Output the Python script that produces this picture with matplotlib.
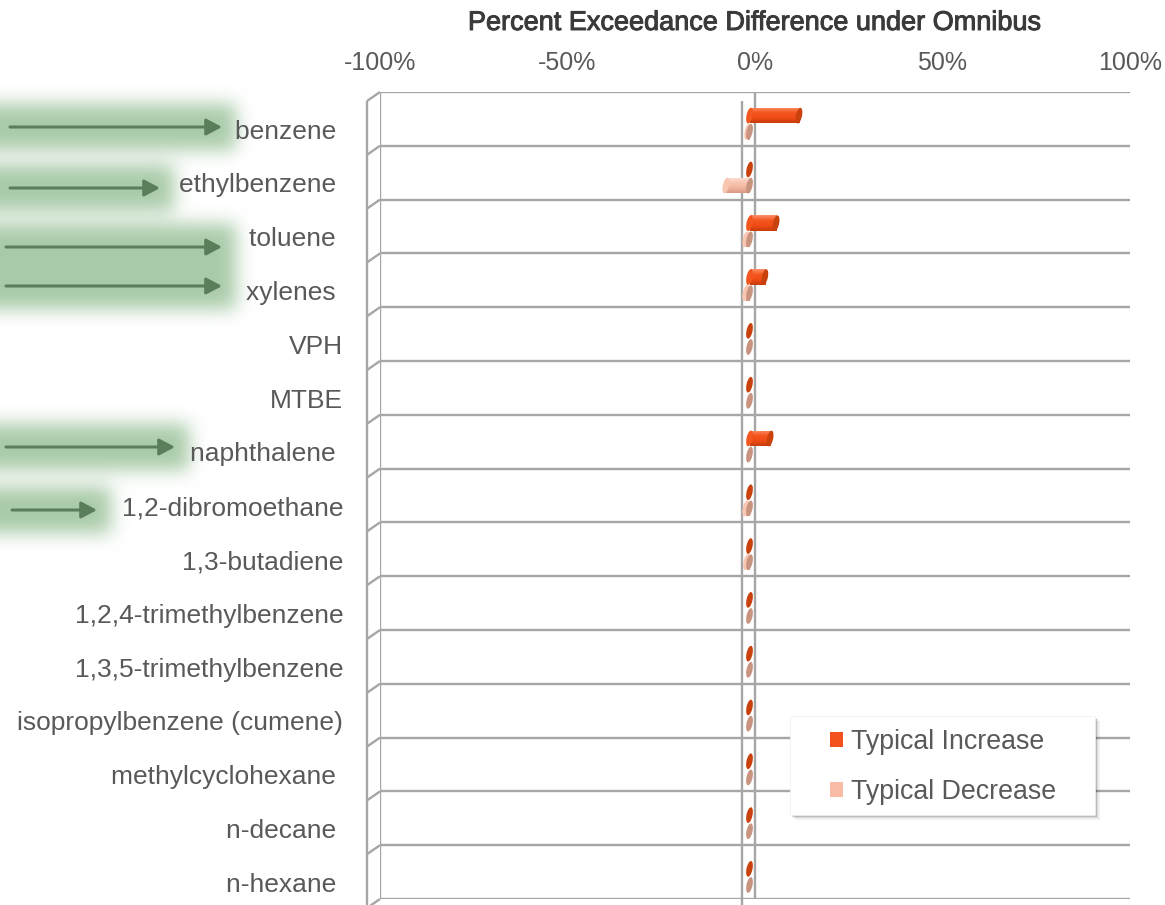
import numpy as np
import matplotlib
matplotlib.use("Agg")
import matplotlib.pyplot as plt
from matplotlib import patches, transforms, patheffects
from matplotlib.colors import LinearSegmentedColormap

categories = ["benzene ", "ethylbenzene ", "toluene ", "xylenes ", "VPH", "MTBE",
              "naphthalene ", "1,2-dibromoethane", "1,3-butadiene",
              "1,2,4-trimethylbenzene", "1,3,5-trimethylbenzene",
              "isopropylbenzene (cumene)", "methylcyclohexane ", "n-decane ",
              "n-hexane "]
typical_increase = [13.2, 0, 7.1, 4.1, 0, 0, 5.5, 0, 0, 0, 0, 0, 0, 0, 0]
typical_decrease = [-0.5, -6.3, -1.0, -1.0, 0, 0, 0, -1.0, -0.8, 0, 0, 0, 0, 0, 0]
x_ticks = [-100, -50, 0, 50, 100]
title = "Percent Exceedance Difference under Omnibus"

# green pointer arrows on the left: (x start, x end, y) in figure pixels from top
pointers = [(10, 222, 127), (10, 160, 188), (6, 222, 247), (6, 222, 286),
            (6, 175, 447), (12, 97, 510)]

plt.rcParams['font.family'] = ['Liberation Sans', 'DejaVu Sans']

W, H = 1165, 905
GRID = '#a6a6a6'
TEXT = '#595959'
INC, DEC = '#f4511e', '#f8bba5'

fig = plt.figure(figsize=(W / 100, H / 100), dpi=100)
ax = fig.add_axes([380 / W, 1 - 899 / H, 750 / W, 807 / H])
ax.set_zorder(1)
ax.patch.set_visible(False)
for s in ax.spines.values():
    s.set_visible(False)

n = len(categories)
rows = np.arange(n)
ax.set_xlim(-100, 100)
ax.set_ylim(n - 0.5, -0.5)
ax.set_autoscale_on(False)

# 3-D frame: back wall grid plus the offset front edges
front = transforms.offset_copy(ax.transData, fig=fig, x=-13, y=-9, units='dots')
dxd = -13 * 200 / 750
dyd = 9 * n / 807
edges = np.arange(n + 1) - 0.5
ax.hlines(edges, -100, 100, color=GRID, lw=1.7, zorder=1)
ax.vlines([-100, 0], -0.5, n - 0.5, color=GRID, lw=1.7, zorder=1)
ax.vlines([-100, 0], -0.5, n + 0.3, color=GRID, lw=1.7, zorder=1,
          transform=front, clip_on=False)
for e in edges:
    ax.plot([-100, -100 + dxd], [e, e + dyd], color=GRID, lw=1.7, zorder=1,
            clip_on=False, solid_capstyle='butt')

# cylinders
bar_t = transforms.offset_copy(ax.transData, fig=fig, x=-5.5, y=0, units='dots')
bar_h = 0.29
grad = np.linspace(0, 1, 64).reshape(-1, 1)
inc_cmap = LinearSegmentedColormap.from_list(
    'inc', ['#fb9068', '#f4561f', '#ef4b16', '#c73c0c'])
dec_cmap = LinearSegmentedColormap.from_list(
    'dec', ['#fde2d6', '#f9c6b2', '#f3b59e', '#d99883'])


def cap(x, y, color, w=6, h=16):
    tr = fig.dpi_scale_trans + transforms.ScaledTranslation(x, y, bar_t)
    el = patches.Ellipse((0, 0), w / 100, h / 100, angle=-12, transform=tr,
                         facecolor=color, edgecolor='none', zorder=4)
    ax.add_patch(el)


def cylinder(v, y, cmap, mid, cap_color):
    x0, x1 = min(v, 0), max(v, 0)
    if x1 > x0:
        cap(x0, y, mid)
        rect = patches.Rectangle((x0, y - bar_h / 2), x1 - x0, bar_h,
                                 transform=bar_t, facecolor='none',
                                 edgecolor='none')
        ax.add_patch(rect)
        im = ax.imshow(grad, extent=(x0, x1, y + bar_h / 2, y - bar_h / 2),
                       aspect='auto', cmap=cmap, origin='upper',
                       transform=bar_t, zorder=3, interpolation='bilinear')
        im.set_clip_path(rect)
    cap(x1, y, cap_color)


for i in rows:
    cylinder(typical_increase[i], i - 0.06, inc_cmap, '#f4561f', '#c9420e')
for i in rows:
    cylinder(typical_decrease[i], i + 0.24, dec_cmap, '#f9c6b2', '#c8937f')

ax.set_xlim(-100, 100)
ax.set_ylim(n - 0.5, -0.5)

# axes labels
ax.xaxis.tick_top()
ax.set_xticks(x_ticks)
ax.set_xticklabels([f"{t}%" for t in x_ticks])
ax.tick_params(axis='x', length=0, pad=12, labelsize=18, labelcolor=TEXT)
ax.set_yticks(rows + 0.19)
ax.set_yticklabels(categories)
ax.tick_params(axis='y', length=0, pad=26.5, labelsize=19, labelcolor=TEXT)

fig.text(755 / W, 1 - 23 / H, title, ha='center', va='center',
         fontsize=19.5, color='#3a3a3a',
         path_effects=[patheffects.withStroke(linewidth=0.7, foreground='#3a3a3a')])

# legend box with a soft shadow
for k, a in [(5, 0.06), (3, 0.10), (1.5, 0.12)]:
    fig.add_artist(patches.Rectangle(((790 + k) / W, 1 - (815 + k) / H),
                                     305 / W, 99 / H, transform=fig.transFigure,
                                     facecolor='black', edgecolor='none',
                                     alpha=a, zorder=2))
fig.add_artist(patches.Rectangle((790 / W, 1 - 815 / H), 305 / W, 99 / H,
                                 transform=fig.transFigure, facecolor='white',
                                 edgecolor='#eeeeee', lw=0.5, zorder=2))
handles = [patches.Patch(facecolor=INC, label='Typical Increase'),
           patches.Patch(facecolor=DEC, label='Typical Decrease')]
fig.legend(handles=handles, loc='upper left', frameon=False,
           bbox_to_anchor=(830 / W, 1 - 729 / H), borderpad=0, borderaxespad=0,
           fontsize=19.3, labelcolor=TEXT, handlelength=0.5, handleheight=0.5,
           handletextpad=0.27, labelspacing=0.9)


# glow behind the pointer arrows
def blur(a, sigma):
    r = int(3 * sigma)
    k = np.exp(-0.5 * (np.arange(-r, r + 1) / sigma) ** 2)
    k /= k.sum()
    a = np.pad(a, r, mode='edge')
    a = np.apply_along_axis(lambda m: np.convolve(m, k, mode='valid'), 0, a)
    a = np.apply_along_axis(lambda m: np.convolve(m, k, mode='valid'), 1, a)
    return a


mask = np.zeros((H, W))
for x0, x1, y in pointers:
    mask[y - 23:y + 23, 0:x1 + 14] = 1
glow = np.clip(blur(mask, 9), 0, 1)
rgba = np.zeros((H, W, 4))
rgba[..., 0] = 140 / 255
rgba[..., 1] = 185 / 255
rgba[..., 2] = 140 / 255
rgba[..., 3] = 0.75 * glow
fig.figimage(rgba, xo=0, yo=0, origin='upper', zorder=0)

for x0, x1, y in pointers:
    fig.add_artist(patches.FancyArrowPatch(
        (x0 / W, 1 - y / H), (x1 / W, 1 - y / H), transform=fig.transFigure,
        arrowstyle='-|>,head_length=0.47,head_width=0.25', mutation_scale=20,
        lw=2.2, color='#5a7e5a', shrinkA=0, shrinkB=0, zorder=3))

fig.savefig("out.png", dpi=100, facecolor='white')
